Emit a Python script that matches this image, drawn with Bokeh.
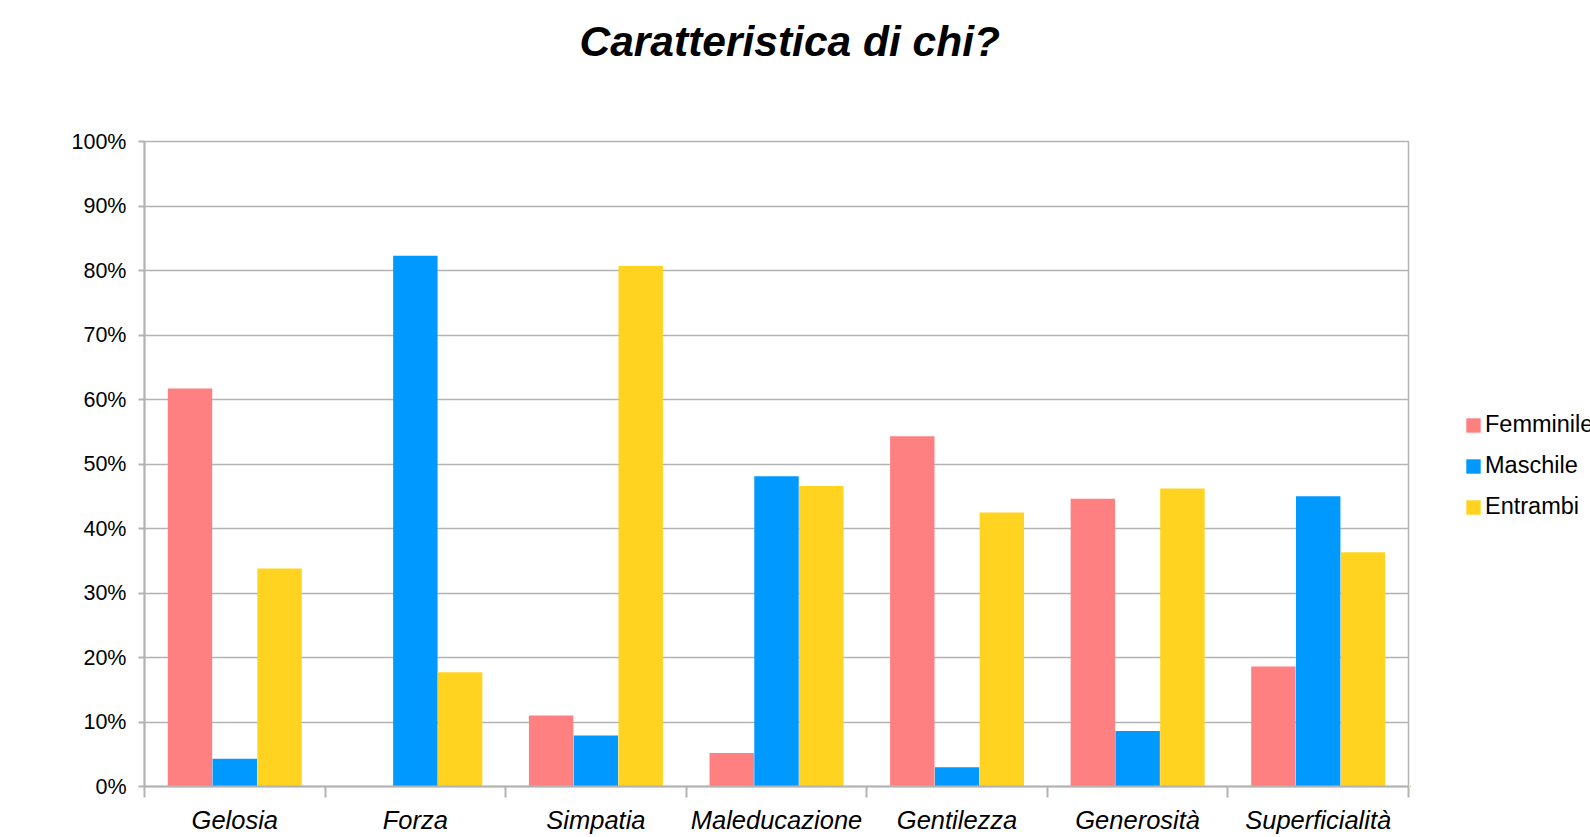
from bokeh.plotting import figure
from bokeh.layouts import row
from bokeh.models import (ColumnDataSource, FixedTicker, NumeralTickFormatter, Legend,
                          LegendItem, Range1d, Title)
from bokeh.transform import dodge
from bokeh.embed import file_html
from bokeh.resources import INLINE

categories = ["Gelosia", "Forza", "Simpatia", "Maleducazione", "Gentilezza", "Generosità", "Superficialità"]
femminile = [0.617, 0.0, 0.110, 0.052, 0.543, 0.446, 0.186]
maschile = [0.043, 0.823, 0.079, 0.481, 0.030, 0.086, 0.450]
entrambi = [0.338, 0.177, 0.807, 0.466, 0.425, 0.462, 0.363]
series_names = ["Femminile", "Maschile", "Entrambi"]
series_colors = ["#FF8080", "#0099FF", "#FFD320"]
y_ticks = [0.0, 0.1, 0.2, 0.3, 0.4, 0.5, 0.6, 0.7, 0.8, 0.9, 1.0]
title_text = "Caratteristica di chi?"

pos = [i + 0.5 for i in range(len(categories))]
source = ColumnDataSource(dict(pos=pos, cat=categories, Femminile=femminile,
                               Maschile=maschile, Entrambi=entrambi))

GRID = "#b3b3b3"
FONT = "Liberation Sans"

p = figure(width=1410, height=837, output_backend="svg", toolbar_location=None,
           x_range=Range1d(0, len(categories)), y_range=Range1d(0, 1),
           min_border_left=144, min_border_right=2, min_border_top=141,
           min_border_bottom=51)

# spacer between frame and title (first added = closest to the frame)
p.add_layout(Title(text=" ", text_font_size="1px", standoff=69), "above")
p.add_layout(Title(text=title_text, align="left", text_font=FONT, text_font_size="42.5px",
                   text_font_style="bold italic", text_color="#000000", offset=435,
                   standoff=10), "above")

offsets = [-0.248, 0.0, 0.248]
for name, color, off in zip(series_names, series_colors, offsets):
    p.vbar(x=dodge("pos", off, range=p.x_range), top=name, width=0.246, bottom=0,
           source=source, fill_color=color, line_color=None)

# x axis: labels at category centres, separator ticks at boundaries
xa = p.xaxis[0]
xa.ticker = FixedTicker(ticks=pos, minor_ticks=[float(i) for i in range(len(categories) + 1)])
xa.major_label_overrides = {pv: c for pv, c in zip(pos, categories)}
xa.major_tick_out = 0
xa.major_tick_in = 0
xa.minor_tick_out = 11
xa.minor_tick_in = 0
xa.minor_tick_line_color = GRID
xa.minor_tick_line_width = 2
xa.axis_line_color = GRID
xa.axis_line_width = 2
xa.major_label_text_font = FONT
xa.major_label_text_font_size = "25.5px"
xa.major_label_text_font_style = "italic"
xa.major_label_text_color = "#000000"
xa.major_label_standoff = 8

ya = p.yaxis[0]
ya.ticker = FixedTicker(ticks=y_ticks)
ya.formatter = NumeralTickFormatter(format="0%")
ya.major_tick_out = 6
ya.major_tick_in = 0
ya.minor_tick_out = 0
ya.minor_tick_in = 0
ya.major_tick_line_color = GRID
ya.major_tick_line_width = 2
ya.axis_line_color = GRID
ya.axis_line_width = 2
ya.major_label_text_font = FONT
ya.major_label_text_font_size = "21.5px"
ya.major_label_text_color = "#000000"
ya.major_label_standoff = 12

p.xgrid.visible = False
p.ygrid.ticker = FixedTicker(ticks=y_ticks)
p.ygrid.grid_line_color = GRID
p.ygrid.grid_line_width = 1.5

p.outline_line_color = GRID
p.outline_line_width = 1.5
p.background_fill_color = "white"
p.border_fill_color = "white"

# legend panel (separate figure on the right); its ranges keep the bars out of view
q = figure(width=180, height=837, output_backend="svg", toolbar_location=None,
           x_range=Range1d(100, 280), y_range=Range1d(100, 937),
           x_axis_location=None, y_axis_location=None,
           min_border_left=0, min_border_right=0, min_border_top=0, min_border_bottom=0)
q.grid.visible = False
q.outline_line_color = None
q.background_fill_color = "white"
q.border_fill_color = "white"

legend_renderers = []
for name, color, off in zip(series_names, series_colors, offsets):
    r = q.vbar(x=dodge("pos", off), top=name, width=0.246, bottom=0, source=source,
               fill_color=color, line_color=None)
    legend_renderers.append(r)

legend = Legend(items=[LegendItem(label=n, renderers=[r]) for n, r in zip(series_names, legend_renderers)],
                location=(54, 259), orientation="vertical", padding=0, margin=0, spacing=0,
                glyph_width=18, glyph_height=18, label_height=41, label_standoff=3,
                label_text_font=FONT, label_text_font_size="23.5px", label_text_color="#000000",
                border_line_color=None, background_fill_alpha=0)
q.add_layout(legend, "center")

layout = row(p, q, spacing=0)

open("out.html", "w").write(file_html(layout, INLINE))
